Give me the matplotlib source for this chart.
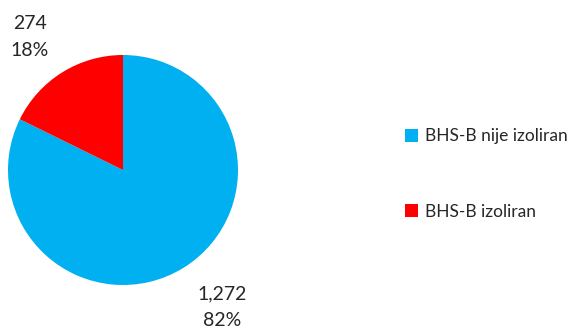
import matplotlib.pyplot as plt

plt.rcParams['font.family'] = ['Lato', 'DejaVu Sans']

labels = ["BHS-B nije izoliran", "BHS-B izoliran"]
values = [1272, 274]
colors = ["#00B0F0", "#FF0000"]

W, H = 581, 329
fig = plt.figure(figsize=(W / 100, H / 100), dpi=100)

# pie centred at (123, 170) px, radius ~115 px
cx, cy, r = 123, 170, 115
ax = fig.add_axes([(cx - r) / W, 1 - (cy + r) / H, 2 * r / W, 2 * r / H])
wedges, _ = ax.pie(values, colors=colors, startangle=90, counterclock=False,
                   radius=1, wedgeprops=dict(linewidth=0))
ax.set_xlim(-1, 1)
ax.set_ylim(-1, 1)
ax.set_aspect("equal")

total = sum(values)
label_pos = [(222, 307), (30, 37)]  # px centres of the two-line labels
for v, (px, py) in zip(values, label_pos):
    fig.text(px / W, 1 - py / H, f"{v:,}\n{v / total:.0%}", ha="center",
             va="center", fontsize=14, color="#262626", linespacing=1.7)

fig.legend(wedges, labels, loc="center left",
           bbox_to_anchor=(389 / W, 1 - 174 / H), frameon=False,
           fontsize=12.5, handlelength=0.75, handleheight=0.75,
           handletextpad=0.4, labelspacing=3.4, labelcolor="#262626")

fig.savefig("out.png", dpi=100)
